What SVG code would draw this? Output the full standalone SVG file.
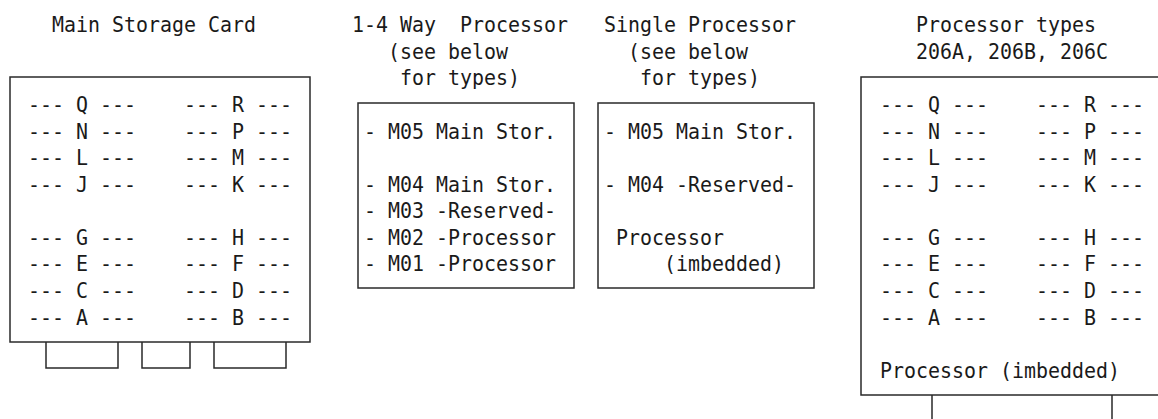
<svg xmlns="http://www.w3.org/2000/svg" width="1158" height="419" viewBox="0 0 1158 419" xml:space="preserve">
<style>
text{font-family:"DejaVu Sans Mono","Liberation Mono",monospace;font-size:22px;fill:#1a1a1a;white-space:pre}
.b{fill:none;stroke:#2a2a2a;stroke-width:1.5}
</style>
<rect width="1158" height="419" fill="#fff"/>
<g id="main-storage-card">
<text x="52" y="31.5" textLength="204" lengthAdjust="spacingAndGlyphs">Main Storage Card</text>
<rect class="b" x="10" y="77" width="300" height="265"/>
<text x="28" y="112" textLength="108" lengthAdjust="spacingAndGlyphs">--- Q ---</text>
<text x="184" y="112" textLength="108" lengthAdjust="spacingAndGlyphs">--- R ---</text>
<text x="28" y="138.6" textLength="108" lengthAdjust="spacingAndGlyphs">--- N ---</text>
<text x="184" y="138.6" textLength="108" lengthAdjust="spacingAndGlyphs">--- P ---</text>
<text x="28" y="165.2" textLength="108" lengthAdjust="spacingAndGlyphs">--- L ---</text>
<text x="184" y="165.2" textLength="108" lengthAdjust="spacingAndGlyphs">--- M ---</text>
<text x="28" y="191.7" textLength="108" lengthAdjust="spacingAndGlyphs">--- J ---</text>
<text x="184" y="191.7" textLength="108" lengthAdjust="spacingAndGlyphs">--- K ---</text>
<text x="28" y="244.9" textLength="108" lengthAdjust="spacingAndGlyphs">--- G ---</text>
<text x="184" y="244.9" textLength="108" lengthAdjust="spacingAndGlyphs">--- H ---</text>
<text x="28" y="271.4" textLength="108" lengthAdjust="spacingAndGlyphs">--- E ---</text>
<text x="184" y="271.4" textLength="108" lengthAdjust="spacingAndGlyphs">--- F ---</text>
<text x="28" y="298" textLength="108" lengthAdjust="spacingAndGlyphs">--- C ---</text>
<text x="184" y="298" textLength="108" lengthAdjust="spacingAndGlyphs">--- D ---</text>
<text x="28" y="324.6" textLength="108" lengthAdjust="spacingAndGlyphs">--- A ---</text>
<text x="184" y="324.6" textLength="108" lengthAdjust="spacingAndGlyphs">--- B ---</text>
<path class="b" d="M46 342V368H118V342M142 342V368H190V342M214 342V368H286V342"/>
</g>
<g id="way-processor">
<text x="352" y="31.5" textLength="216" lengthAdjust="spacingAndGlyphs">1-4 Way  Processor</text>
<text x="388" y="58.5" textLength="120" lengthAdjust="spacingAndGlyphs">(see below</text>
<text x="400" y="85" textLength="120" lengthAdjust="spacingAndGlyphs">for types)</text>
<rect class="b" x="358" y="103" width="216" height="185"/>
<text x="364" y="138.6" textLength="192" lengthAdjust="spacingAndGlyphs">- M05 Main Stor.</text>
<text x="364" y="191.7" textLength="192" lengthAdjust="spacingAndGlyphs">- M04 Main Stor.</text>
<text x="364" y="218.3" textLength="192" lengthAdjust="spacingAndGlyphs">- M03 -Reserved-</text>
<text x="364" y="244.9" textLength="192" lengthAdjust="spacingAndGlyphs">- M02 -Processor</text>
<text x="364" y="271.4" textLength="192" lengthAdjust="spacingAndGlyphs">- M01 -Processor</text>
</g>
<g id="single-processor">
<text x="604" y="31.5" textLength="192" lengthAdjust="spacingAndGlyphs">Single Processor</text>
<text x="628" y="58.5" textLength="120" lengthAdjust="spacingAndGlyphs">(see below</text>
<text x="640" y="85" textLength="120" lengthAdjust="spacingAndGlyphs">for types)</text>
<rect class="b" x="598" y="103" width="216" height="185"/>
<text x="604" y="138.6" textLength="192" lengthAdjust="spacingAndGlyphs">- M05 Main Stor.</text>
<text x="604" y="191.7" textLength="192" lengthAdjust="spacingAndGlyphs">- M04 -Reserved-</text>
<text x="616" y="244.9" textLength="108" lengthAdjust="spacingAndGlyphs">Processor</text>
<text x="664" y="271.4" textLength="120" lengthAdjust="spacingAndGlyphs">(imbedded)</text>
</g>
<g id="processor-types">
<text x="916" y="31.5" textLength="180" lengthAdjust="spacingAndGlyphs">Processor types</text>
<text x="916" y="58.5" textLength="192" lengthAdjust="spacingAndGlyphs">206A, 206B, 206C</text>
<path class="b" d="M1160 77H861V395H1160"/>
<text x="880" y="112" textLength="108" lengthAdjust="spacingAndGlyphs">--- Q ---</text>
<text x="1036" y="112" textLength="108" lengthAdjust="spacingAndGlyphs">--- R ---</text>
<text x="880" y="138.6" textLength="108" lengthAdjust="spacingAndGlyphs">--- N ---</text>
<text x="1036" y="138.6" textLength="108" lengthAdjust="spacingAndGlyphs">--- P ---</text>
<text x="880" y="165.2" textLength="108" lengthAdjust="spacingAndGlyphs">--- L ---</text>
<text x="1036" y="165.2" textLength="108" lengthAdjust="spacingAndGlyphs">--- M ---</text>
<text x="880" y="191.7" textLength="108" lengthAdjust="spacingAndGlyphs">--- J ---</text>
<text x="1036" y="191.7" textLength="108" lengthAdjust="spacingAndGlyphs">--- K ---</text>
<text x="880" y="244.9" textLength="108" lengthAdjust="spacingAndGlyphs">--- G ---</text>
<text x="1036" y="244.9" textLength="108" lengthAdjust="spacingAndGlyphs">--- H ---</text>
<text x="880" y="271.4" textLength="108" lengthAdjust="spacingAndGlyphs">--- E ---</text>
<text x="1036" y="271.4" textLength="108" lengthAdjust="spacingAndGlyphs">--- F ---</text>
<text x="880" y="298" textLength="108" lengthAdjust="spacingAndGlyphs">--- C ---</text>
<text x="1036" y="298" textLength="108" lengthAdjust="spacingAndGlyphs">--- D ---</text>
<text x="880" y="324.6" textLength="108" lengthAdjust="spacingAndGlyphs">--- A ---</text>
<text x="1036" y="324.6" textLength="108" lengthAdjust="spacingAndGlyphs">--- B ---</text>
<text x="880" y="377.7" textLength="240" lengthAdjust="spacingAndGlyphs">Processor (imbedded)</text>
<path class="b" d="M932 395V420M1112 395V420"/>
</g>
<g id="connectors"/>
</svg>
